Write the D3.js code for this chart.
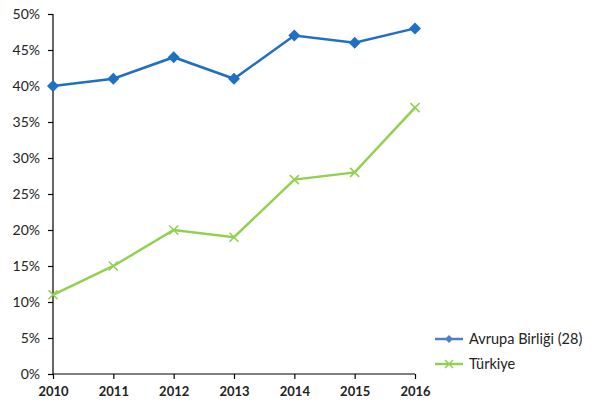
<!DOCTYPE html>
<html><head><meta charset="utf-8">
<script src="https://cdn.jsdelivr.net/npm/d3@7"></script>
<style>body{margin:0;background:#fff}text{font-family:Lato,"Open Sans",sans-serif}</style>
</head><body><svg id="c" width="592" height="410"></svg>
<script>
const years = ["2010","2011","2012","2013","2014","2015","2016"];
const euValues = [40, 41, 44, 41, 47, 46, 48];
const trValues = [11, 15, 20, 19, 27, 28, 37];
const yTicks = [0,5,10,15,20,25,30,35,40,45,50];
const seriesNames = ["Avrupa Birliği (28)", "Türkiye"];

const svg = d3.select("#c");
const x = d3.scalePoint().domain(years).range([53, 415]);
const y = d3.scaleLinear().domain([0, 50]).range([374, 14]);

const yAxis = d3.axisLeft(y).tickValues(yTicks).tickFormat(d => d + "%").tickSize(5).tickPadding(8);
const gy = svg.append("g").attr("transform","translate(53,0)").call(yAxis);
const xAxis = d3.axisBottom(x).tickSize(5).tickPadding(8);
const gx = svg.append("g").attr("transform","translate(0,374)").call(xAxis);
[gy,gx].forEach(g=>{
  g.select(".domain").attr("stroke","#000").attr("stroke-width",1.2);
  g.selectAll(".tick line").attr("stroke","#000").attr("stroke-width",1.2);
  g.selectAll("text").attr("font-size",14).attr("fill","#222").attr("font-family","Lato, sans-serif");
});
gx.selectAll("text").attr("font-weight","bold").attr("font-size",13);
gy.select(".domain").attr("d","M0,14V374");
gx.select(".domain").attr("d","M53,0H415");

const blue = "#1f6fc4", green = "#92d050";
const line = d3.line().x((d,i)=>x(years[i])).y(d=>y(d));
svg.append("path").datum(trValues).attr("d",line).attr("fill","none").attr("stroke",green).attr("stroke-width",2.5);
svg.append("path").datum(euValues).attr("d",line).attr("fill","none").attr("stroke",blue).attr("stroke-width",2.5);

const diamond = (g,cx,cy,s,col)=>g.append("path").attr("d",`M${cx},${cy-s}L${cx+s},${cy}L${cx},${cy+s}L${cx-s},${cy}Z`).attr("fill",col);
const cross = (g,cx,cy,s,col,w)=>g.append("path").attr("d",`M${cx-s},${cy-s}L${cx+s},${cy+s}M${cx-s},${cy+s}L${cx+s},${cy-s}`).attr("stroke",col).attr("stroke-width",w).attr("fill","none");

euValues.forEach((v,i)=>diamond(svg,x(years[i]),y(v),6,blue));
trValues.forEach((v,i)=>cross(svg,x(years[i]),y(v),4.5,green,1.6));

// legend
const lg = svg.append("g");
const ly = [339, 364];
lg.append("line").attr("x1",435).attr("x2",463).attr("y1",ly[0]).attr("y2",ly[0]).attr("stroke","#4a82c8").attr("stroke-width",2.5);
diamond(lg,449,ly[0],4,"#4a82c8");
lg.append("line").attr("x1",435).attr("x2",463).attr("y1",ly[1]).attr("y2",ly[1]).attr("stroke",green).attr("stroke-width",2.5);
cross(lg,449,ly[1],4,green,1.5);
seriesNames.forEach((n,i)=>lg.append("text").attr("x",469).attr("y",ly[i]+5).attr("font-size",14.5).attr("fill","#222").text(n));
</script></body></html>
